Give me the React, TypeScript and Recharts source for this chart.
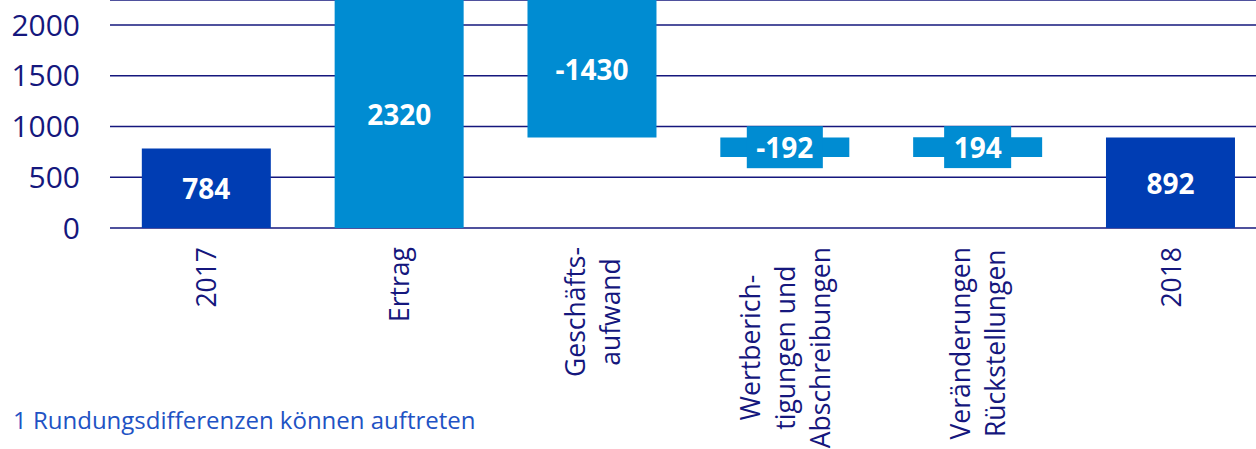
import { BarChart, Bar, XAxis, YAxis, CartesianGrid, LabelList, Cell } from 'recharts';

// ---------------------------------------------------------------------------
// Data (waterfall)
// ---------------------------------------------------------------------------

const categories = [
  '2017',
  'Ertrag',
  'Geschäftsaufwand',
  'Wertberichtigungen und Abschreibungen',
  'Veränderungen Rückstellungen',
  '2018',
];

const tickLines = [
  ['2017'],
  ['Ertrag'],
  ['Geschäfts-', 'aufwand'],
  ['Wertberich-', 'tigungen und', 'Abschreibungen'],
  ['Veränderungen', 'Rückstellungen'],
  ['2018'],
];

// bar start / end as drawn
const barLow = [0, 0, 892, 700, 700, 0];
const barHigh = [784, 3104, 3104, 892, 894, 892];

// printed values
const changes = [784, 2320, -1430, -192, 194, 892];
const isTotal = [true, false, false, false, false, true];

const yTicks = [0, 500, 1000, 1500, 2000];

// ---------------------------------------------------------------------------
// Style
// ---------------------------------------------------------------------------

const DARK = '#003db3';
const LIGHT = '#008cd2';
const NAVY = '#15177d';
const FONT = '"Open Sans", "Noto Sans", sans-serif';
const LABEL_FONT = `700 28px ${FONT}`;
const TICK_SIZE = 26.5;
const TICK_FONT = `400 ${TICK_SIZE}px ${FONT}`;

let ctx: CanvasRenderingContext2D | null = null;
function textWidth(text: string, font: string) {
  if (!ctx) ctx = document.createElement('canvas').getContext('2d');
  if (!ctx) return text.length * 15;
  ctx.font = font;
  return ctx.measureText(text).width;
}

const rows = categories.map((name, i) => ({
  name,
  range: [barLow[i], barHigh[i]],
}));

// ---------------------------------------------------------------------------
// Value labels (centred on the visible part of the bar, boxed on thin bars)
// ---------------------------------------------------------------------------

function ValueLabel(props: any) {
  const vb = props.viewBox || {};
  const x = props.x ?? vb.x;
  const y = props.y ?? vb.y;
  const width = props.width ?? vb.width;
  const height = props.height ?? vb.height;
  const index = props.index;
  if (x == null || index == null) return null;
  const top = Math.max(Math.min(y, y + height), 0);
  const bottom = Math.max(y, y + height);
  const cx = x + width / 2;
  const cy = (top + bottom) / 2;
  const text = String(changes[index]);
  const label = (
    <text
      x={cx}
      y={cy}
      textAnchor="middle"
      dominantBaseline="central"
      fill="#fff"
      fontFamily={FONT}
      fontWeight={700}
      fontSize={28}
    >
      {text}
    </text>
  );
  if (bottom - top < 45) {
    const w = textWidth(text, LABEL_FONT) + 19;
    return (
      <g>
        <rect x={cx - w / 2} y={cy - 21} width={w} height={42} fill={LIGHT} />
        {label}
      </g>
    );
  }
  return label;
}

// ---------------------------------------------------------------------------
// Rotated, multi-line category ticks
// ---------------------------------------------------------------------------

function CategoryTick(props: any) {
  const { x, y, payload } = props;
  const i = categories.indexOf(payload.value);
  const lines = tickLines[i] ?? [String(payload.value)];
  const maxW = Math.max(...lines.map((l) => textWidth(l, TICK_FONT)));
  const cy = y + 19 + maxW / 2;
  const step = 35;
  return (
    <g>
      {lines.map((line, k) => {
        const lx = x + (k - (lines.length - 1) / 2) * step + 10;
        return (
          <text
            key={line}
            x={lx}
            y={cy}
            transform={`rotate(-90 ${lx} ${cy})`}
            textAnchor="middle"
            fill={NAVY}
            fontFamily={FONT}
            fontSize={TICK_SIZE}
          >
            {line}
          </text>
        );
      })}
    </g>
  );
}

export default function App() {
  return (
    <div
      style={{
        position: 'absolute',
        left: 0,
        top: 0,
        width: 1256,
        height: 449,
        overflow: 'hidden',
        background: '#fff',
        fontFamily: FONT,
      }}
    >
      <BarChart
        width={1267}
        height={449}
        data={rows}
        margin={{ top: 0, right: 0, bottom: 0, left: 0 }}
        barCategoryGap="16.5%"
      >
        <CartesianGrid horizontal vertical={false} stroke={NAVY} strokeWidth={1.6} />
        <XAxis
          dataKey="name"
          height={221}
          interval={0}
          axisLine={false}
          tickLine={false}
          tickSize={0}
          tickMargin={0}
          tick={<CategoryTick />}
        />
        <YAxis
          width={110}
          domain={[0, 2246]}
          allowDataOverflow
          ticks={yTicks}
          axisLine={false}
          tickLine={false}
          tickSize={0}
          tickMargin={30}
          tick={{ fill: NAVY, fontSize: 30, fontFamily: FONT }}
        />
        <Bar dataKey="range" isAnimationActive={false}>
          {rows.map((r, i) => (
            <Cell key={r.name} fill={isTotal[i] ? DARK : LIGHT} />
          ))}
          <LabelList dataKey="range" content={<ValueLabel />} />
        </Bar>
      </BarChart>
      <div
        style={{
          position: 'absolute',
          left: 13,
          top: 405,
          fontSize: 24,
          lineHeight: '30px',
          color: '#2152c4',
          whiteSpace: 'nowrap',
        }}
      >
        1 Rundungsdifferenzen können auftreten
      </div>
    </div>
  );
}
